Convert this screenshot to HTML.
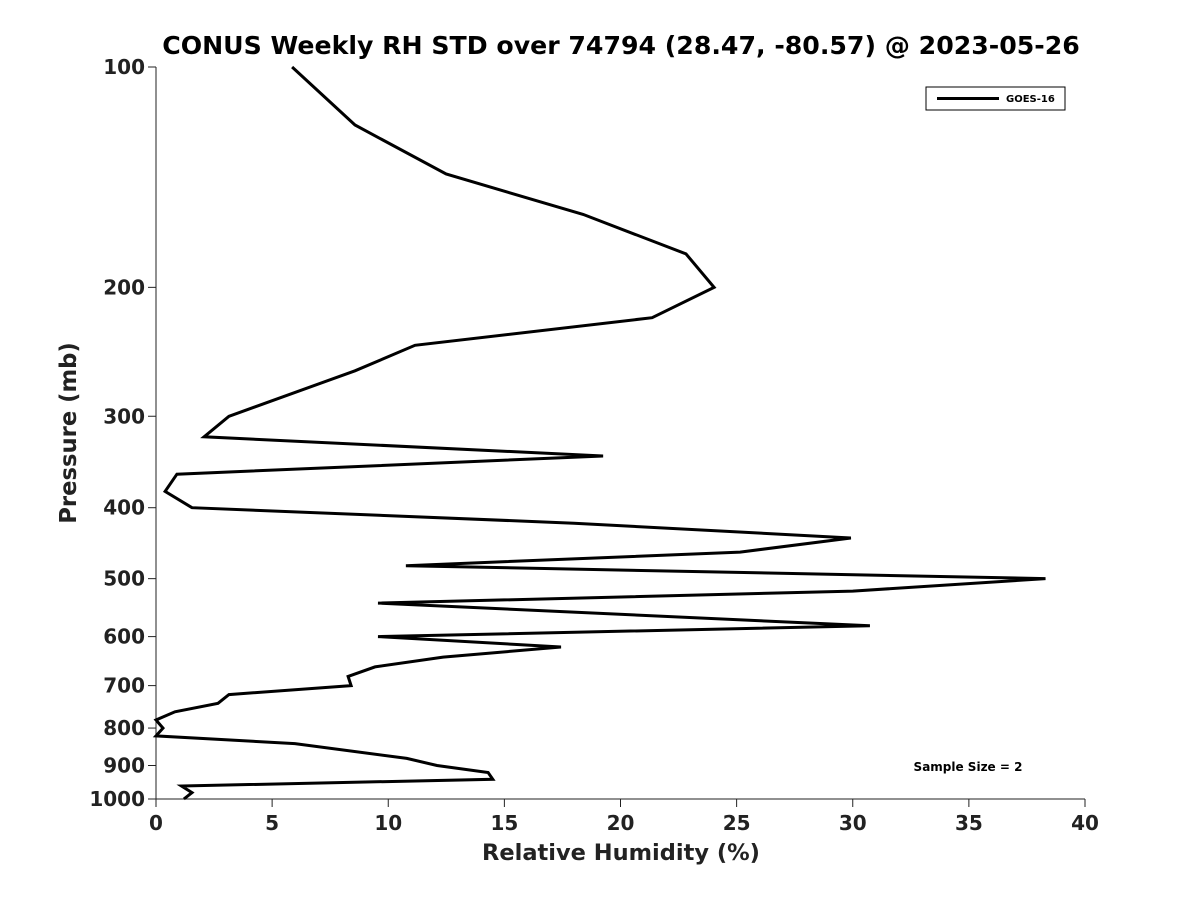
<!DOCTYPE html>
<html><head><meta charset="utf-8"><style>
body{margin:0;background:#fff;}
svg{display:block;font-family:"DejaVu Sans","Liberation Sans",sans-serif;}
</style></head><body>
<svg id="chart" width="1200" height="900">
<text x="621" y="54" text-anchor="middle" font-size="25.2" font-weight="bold" fill="#000">CONUS Weekly RH STD over 74794 (28.47, -80.57) @ 2023-05-26</text>
<g id="axes"></g>
<path id="line" fill="none" stroke="#000" stroke-width="3" stroke-linejoin="miter"></path>
<g>
<rect x="926" y="87" width="139" height="23" fill="#fff" stroke="#000" stroke-width="1"/>
<line x1="937" y1="98.5" x2="999" y2="98.5" stroke="#000" stroke-width="3"/>
<text x="1006" y="102" font-size="10" font-weight="bold">GOES-16</text>
</g>
<text x="968" y="771" text-anchor="middle" font-size="12" font-weight="bold">Sample Size = 2</text>
<text x="621" y="860" text-anchor="middle" font-size="22.5" font-weight="bold" fill="#222">Relative Humidity (%)</text>
<text transform="translate(76,433) rotate(-90)" text-anchor="middle" font-size="22.7" font-weight="bold" fill="#222">Pressure (mb)</text>
</svg>
<script>
const pressures=[100,120,140,159,180,200,220,240,260,300,320,340,360,380,400,420,440,460,480,500,520,540,580,600,620,640,660,680,700,720,740,760,780,800,820,840,880,900,920,940,960,980,1000];
const rhStd=[5.86,8.57,12.49,18.39,22.82,24.03,21.36,11.15,8.57,3.14,2.07,19.25,0.9,0.39,1.55,18.0,29.92,25.15,10.76,38.3,30.0,9.56,30.74,9.56,17.44,12.36,9.43,8.27,8.4,3.14,2.67,0.82,0,0.3,0,5.98,10.8,12.1,14.3,14.5,1.1,1.55,1.2];
const xTicks=[0,5,10,15,20,25,30,35,40];
const yTicks=[100,200,300,400,500,600,700,800,900,1000];
const X0=156,X1=1085,Y0=67,Y1=799;
const xs=v=>X0+(v-0)/(40-0)*(X1-X0);
const ys=p=>Y0+Math.log10(p/100)*(Y1-Y0);
const NS="http://www.w3.org/2000/svg";
const axes=document.getElementById('axes');
function mk(t,a){const e=document.createElementNS(NS,t);for(const k in a)e.setAttribute(k,a[k]);axes.appendChild(e);return e;}
let e=mk('line',{x1:X0,y1:Y0,x2:X0,y2:Y1,stroke:'#222','stroke-width':1});


e=mk('line',{x1:X0,y1:Y1,x2:X1,y2:Y1,stroke:'#222','stroke-width':1});


xTicks.forEach(v=>{
 const x=xs(v);
 let t=mk('line',{x1:x,y1:Y1,x2:x,y2:Y1+8,stroke:'#222'});
 
 
 let l=mk('text',{x:x,y:Y1+31,'text-anchor':'middle','font-size':20,'font-weight':'bold',fill:'#222'});
 l.textContent=v;
 
 
});
yTicks.forEach(p=>{
 const y=ys(p);
 let t=mk('line',{x1:X0-8,y1:y,x2:X0,y2:y,stroke:'#222'});
 
 
 let l=mk('text',{x:X0-11,y:y+7,'text-anchor':'end','font-size':20,'font-weight':'bold',fill:'#222'});
 l.textContent=p;
 
 
});
document.getElementById('line').setAttribute('d',pressures.map((p,i)=>(i?'L':'M')+xs(rhStd[i]).toFixed(1)+','+ys(p).toFixed(1)).join(''));
</script>
</body></html>
